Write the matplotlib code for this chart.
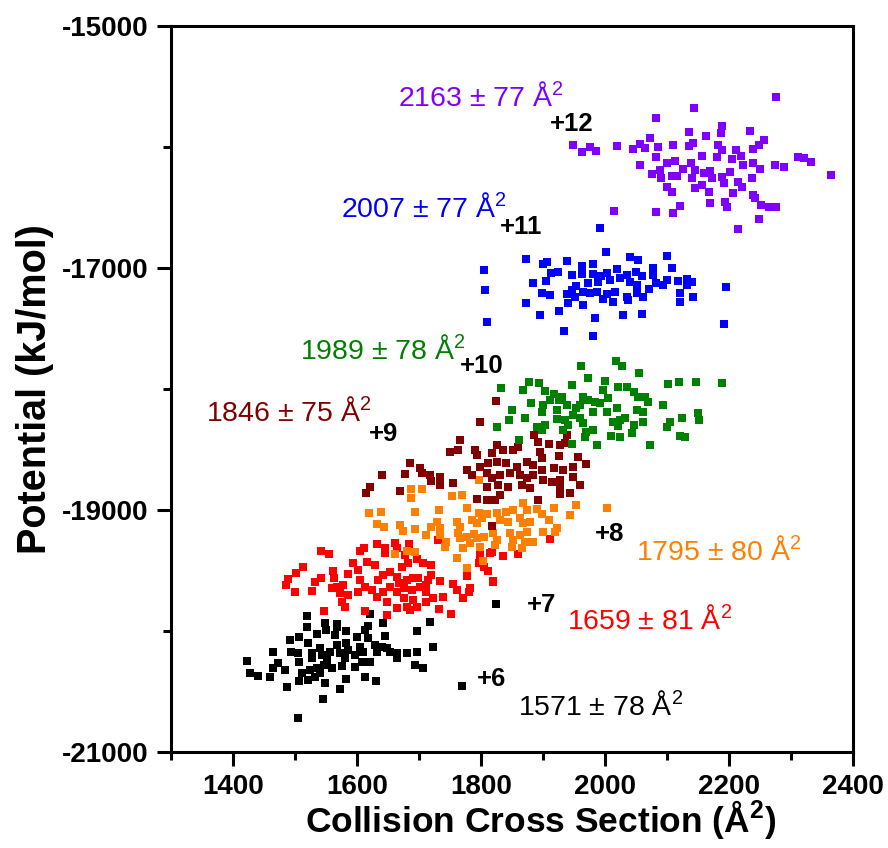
import matplotlib
matplotlib.use('Agg')
import matplotlib.pyplot as plt
from matplotlib.ticker import MultipleLocator

plt.rcParams['font.family'] = ['Liberation Sans', 'DejaVu Sans']
plt.rcParams['mathtext.fontset'] = 'custom'
plt.rcParams['mathtext.rm'] = 'Liberation Sans'
plt.rcParams['mathtext.bf'] = 'Liberation Sans:bold'
plt.rcParams['mathtext.it'] = 'Liberation Sans:italic'
plt.rcParams['axes.unicode_minus'] = False

# (collision cross section A^2, potential kJ/mol), per charge state
pts_z6 = [(1824,-19777),(1519,-19876),(1621,-19862),(1519,-19969),(1548,-19931),(1550,-19991),(1567,-19942),
          (1568,-19964),(1536,-20027),(1565,-20033),(1583,-19997),(1600,-20047),(1613,-19991),(1618,-19958),
          (1642,-19931),(1645,-20041),(1717,-19928),(1696,-20000),(1492,-20074),(1507,-20047),(1521,-20101),
          (1494,-20176),(1505,-20184),(1507,-20253),(1465,-20176),(1422,-20245),(1527,-20184),(1527,-20225),
          (1540,-20143),(1543,-20198),(1551,-20239),(1556,-20171),(1567,-20115),(1573,-20184),(1583,-20101),
          (1581,-20225),(1586,-20157),(1597,-20198),(1605,-20130),(1610,-20171),(1608,-20253),(1618,-20060),
          (1629,-20115),(1632,-20171),(1640,-20130),(1648,-20143),(1653,-20171),(1664,-20184),(1664,-20225),
          (1680,-20184),(1696,-20171),(1621,-20253),(1596,-20295),(1575,-20289),(1559,-20303),(1546,-20281),
          (1535,-20308),(1524,-20322),(1511,-20344),(1484,-20322),(1473,-20267),(1465,-20308),(1460,-20382),
          (1427,-20349),(1441,-20372),(1487,-20465),(1507,-20415),(1521,-20405),(1532,-20377),(1540,-20344),
          (1548,-20432),(1583,-20396),(1613,-20382),(1630,-20415),(1694,-20281),(1706,-20303),(1722,-20134),
          (1573,-20482),(1545,-20564),(1505,-20721),(1770,-20452)]

pts_z7 = [(1542,-19336),(1555,-19366),(1605,-19339),(1612,-19316),(1633,-19283),(1645,-19316),(1645,-19358),
          (1661,-19270),(1664,-19316),(1684,-19281),(1696,-19407),(1677,-19372),(1683,-19440),(1707,-19440),
          (1720,-19454),(1798,-19372),(1815,-19358),(1804,-19468),(1812,-19501),(1513,-19473),(1502,-19523),
          (1489,-19572),(1485,-19620),(1500,-19675),(1527,-19667),(1532,-19597),(1542,-19559),(1562,-19501),
          (1563,-19564),(1586,-19531),(1594,-19440),(1602,-19496),(1616,-19427),(1629,-19454),(1605,-19578),
          (1567,-19634),(1578,-19620),(1559,-19647),(1573,-19688),(1586,-19702),(1602,-19675),(1613,-19634),
          (1624,-19661),(1634,-19578),(1642,-19537),(1653,-19510),(1664,-19551),(1672,-19468),(1667,-19606),
          (1680,-19578),(1691,-19564),(1699,-19564),(1653,-19634),(1642,-19675),(1632,-19716),(1664,-19675),
          (1675,-19647),(1688,-19661),(1702,-19634),(1715,-19578),(1720,-19537),(1734,-19587),(1711,-19620),
          (1712,-19675),(1691,-19744),(1675,-19730),(1648,-19758),(1664,-19807),(1680,-19799),(1685,-19826),
          (1696,-19804),(1575,-19758),(1581,-19799),(1547,-19834),(1613,-19837),(1648,-19867),(1711,-19758),
          (1723,-19730),(1738,-19716),(1733,-19818),(1751,-19862),(1754,-19614),(1761,-19661),(1778,-19545),
          (1780,-19675),(1771,-19730),(1782,-19647),(1819,-19592),(1911,-19242),(1836,-19380),(1860,-19363),
          (1817,-19344),(1820,-19584),(1796,-19440),(1731,-19248)]

pts_z8 = [(1687,-18903),(1753,-18884),(1769,-18876),(1868,-18939),(1954,-18958),(2004,-18986),(1620,-19027),
          (1638,-19014),(1694,-19014),(1732,-19000),(1777,-18986),(1796,-19027),(1809,-19033),(1825,-19027),
          (1841,-19014),(1852,-19000),(1874,-19000),(1890,-18994),(1898,-19033),(1917,-18986),(1944,-19041),
          (1632,-19115),(1644,-19138),(1669,-19124),(1674,-19171),(1694,-19159),(1729,-19096),(1720,-19138),
          (1734,-19151),(1761,-19096),(1766,-19138),(1785,-19082),(1793,-19110),(1801,-19068),(1831,-19082),
          (1844,-19096),(1863,-19068),(1868,-19110),(1879,-19096),(1909,-19082),(1712,-19206),(1734,-19206),
          (1744,-19262),(1742,-19303),(1763,-19192),(1766,-19234),(1777,-19220),(1788,-19198),(1793,-19234),
          (1804,-19220),(1771,-19316),(1782,-19275),(1798,-19303),(1820,-19192),(1825,-19248),(1823,-19289),
          (1847,-19192),(1852,-19248),(1850,-19303),(1863,-19206),(1874,-19179),(1900,-19179),(1922,-19151),
          (1919,-19179),(1871,-19262),(1884,-19262),(1866,-19316),(1661,-19366),(1680,-19339),(1694,-19344),
          (1761,-19399),(1803,-19421),(1778,-19477),(1687,-18826),(1704,-18829),(1796,-18752)]

pts_z9 = [(1824,-18099),(1798,-18270),(1886,-18380),(1892,-18435),(1910,-18454),(1927,-18463),(1935,-18444),
          (1938,-18380),(1766,-18421),(1750,-18523),(1763,-18504),(1790,-18504),(1793,-18545),(1825,-18463),
          (1836,-18504),(1817,-18531),(1852,-18504),(1860,-18477),(1895,-18518),(1898,-18573),(1925,-18554),
          (1957,-18559),(1969,-18622),(1685,-18614),(1702,-18655),(1704,-18692),(1718,-18711),(1734,-18730),
          (1734,-18793),(1720,-18760),(1640,-18711),(1677,-18702),(1754,-18779),(1621,-18807),(1614,-18857),
          (1669,-18840),(1777,-18669),(1785,-18711),(1798,-18642),(1812,-18614),(1825,-18601),(1841,-18614),
          (1858,-18642),(1874,-18601),(1884,-18628),(1898,-18669),(1917,-18655),(1933,-18669),(1949,-18642),
          (1809,-18697),(1817,-18738),(1831,-18711),(1847,-18697),(1863,-18711),(1874,-18738),(1884,-18711),
          (1900,-18752),(1914,-18766),(1927,-18752),(1949,-18725),(1960,-18793),(1927,-18807),(1828,-18793),
          (1844,-18807),(1866,-18793),(1879,-18821),(1809,-18807),(1927,-18868),(1944,-18857),(1831,-18876),
          (1823,-18917),(1809,-18917),(1793,-18911),(1892,-18917),(1817,-19130)]

pts_z10 = [(2018,-17768),(2027,-17810),(1961,-17810),(2055,-17870),(1973,-17911),(2000,-17931),(2101,-17961),
           (2119,-17942),(2147,-17944),(2189,-17950),(1833,-17989),(1877,-17944),(1868,-18008),(1894,-17953),
           (1946,-17967),(2021,-17981),(2035,-17986),(1903,-18014),(1917,-18041),(1930,-18063),(1911,-18091),
           (1880,-18113),(1925,-18091),(1965,-18063),(1973,-18091),(1984,-18105),(1997,-18008),(2005,-18077),
           (1992,-18118),(2047,-18022),(2054,-18063),(2065,-18063),(2070,-18105),(1900,-18132),(1938,-18132),
           (1954,-18159),(1960,-18132),(1922,-18173),(1949,-18215),(1981,-18187),(2003,-18187),(2019,-18159),
           (2051,-18173),(2062,-18187),(2093,-18135),(1850,-18176),(1898,-18192),(1871,-18237),(1845,-18259),
           (1922,-18250),(1935,-18256),(1960,-18242),(1965,-18283),(2024,-18256),(2013,-18270),(2032,-18242),
           (2046,-18297),(2062,-18270),(2105,-18270),(2124,-18242),(2150,-18201),(2151,-18259),(1825,-18316),
           (1890,-18316),(1903,-18297),(1898,-18339),(1933,-18339),(1941,-18297),(1981,-18339),(1970,-18353),
           (2021,-18306),(2024,-18399),(2009,-18388),(2043,-18366),(2100,-18311),(2121,-18388),(2129,-18394),
           (1968,-18394),(1861,-18421),(1946,-18457),(1987,-18463),(2073,-18463)]

pts_z11 = [(1992,-16669),(2001,-16870),(2040,-16906),(2054,-16934),(2100,-16901),(1873,-16926),(1900,-16969),
           (1907,-16953),(1938,-16945),(1963,-16981),(1980,-16969),(1804,-17014),(1913,-17044),(1924,-17033),
           (1946,-17058),(1963,-17052),(1981,-17052),(1994,-17064),(2003,-17044),(2020,-17011),(2036,-17058),
           (2050,-17035),(2060,-17066),(2078,-16997),(2077,-17058),(2108,-17002),(1884,-17124),(1905,-17105),
           (1954,-17149),(1973,-17126),(1989,-17113),(2008,-17099),(2024,-17085),(2040,-17113),(2051,-17140),
           (2083,-17126),(2100,-17099),(2117,-17107),(2132,-17091),(2140,-17113),(1806,-17179),(1898,-17206),
           (1912,-17221),(1938,-17215),(1946,-17182),(1965,-17196),(1976,-17209),(1987,-17196),(2003,-17215),
           (2016,-17196),(2035,-17237),(2051,-17209),(2062,-17242),(2071,-17176),(2094,-17140),(2121,-17206),
           (2133,-17140),(2195,-17157),(1873,-17292),(1941,-17287),(1952,-17242),(1965,-17306),(1997,-17256),
           (2013,-17278),(2037,-17264),(2121,-17281),(2142,-17242),(1926,-17353),(1895,-17391),(1984,-17416),
           (2029,-17386),(2060,-17380),(1809,-17449),(1934,-17521),(1980,-17562),(2192,-17465)]

pts_z12 = [(2275,-15584),(2144,-15680),(2083,-15763),(2188,-15824),(2187,-15887),(2135,-15876),(2163,-15909),
           (2234,-15870),(2256,-15945),(1948,-15986),(1963,-16044),(1975,-16000),(1985,-16031),(2019,-15992),
           (2045,-16014),(2056,-15975),(2073,-15928),(2065,-16011),(2086,-16002),(2109,-15981),(2135,-15989),
           (2142,-15964),(2182,-15981),(2188,-16025),(2212,-16025),(2238,-16016),(2248,-15986),(2083,-16085),
           (2100,-16135),(2113,-16116),(2156,-16072),(2180,-16080),(2205,-16097),(2219,-16072),(2056,-16146),
           (2075,-16226),(2089,-16190),(2091,-16259),(2108,-16237),(2116,-16240),(2125,-16184),(2138,-16135),
           (2145,-16190),(2140,-16259),(2159,-16217),(2170,-16198),(2172,-16259),(2188,-16245),(2192,-16300),
           (2202,-16204),(2215,-16287),(2223,-16149),(2238,-16130),(2237,-16259),(2250,-16184),(2274,-16146),
           (2288,-16163),(2311,-16083),(2321,-16088),(2332,-16121),(2364,-16231),(2100,-16328),(2108,-16369),
           (2145,-16341),(2156,-16314),(2167,-16374),(2207,-16383),(2221,-16333),(2239,-16397),(2242,-16424),
           (2252,-16479),(2264,-16498),(2275,-16493),(2170,-16465),(2194,-16452),(2196,-16493),(2121,-16485),
           (2015,-16529),(2083,-16540),(2110,-16548),(2249,-16595),(2215,-16680)]

charges = ['+6', '+7', '+8', '+9', '+10', '+11', '+12']
ccs_text = ['1571 ± 78', '1659 ± 81', '1795 ± 80', '1846 ± 75', '1989 ± 78', '2007 ± 77', '2163 ± 77']
colors = ['#000000', '#ff0000', '#ff8000', '#800000', '#008000', '#0000ff', '#8000ff']
series = [pts_z6, pts_z7, pts_z8, pts_z9, pts_z10, pts_z11, pts_z12]

# label anchors (left edge, vertical centre) in data units
charge_pos = [(1794, -20396), (1874, -19785), (1984, -19198), (1619, -18372),
              (1766, -17810), (1831, -16661), (1911, -15810)]
ccs_pos = [(1860, -20620), (1939, -19917), (2050, -19339), (1356, -18190),
           (1508, -17678), (1574, -16504), (1666, -15587)]

fig = plt.figure(figsize=(8.88, 8.48), dpi=100)
ax = fig.add_axes([0.1926, 0.1132, 0.768, 0.8561])

for pts, c in zip(series, colors):
    xs, ys = zip(*pts)
    ax.scatter(xs, ys, marker='s', s=35, color=c, linewidths=0, zorder=3)

for lab, pos in zip(charges, charge_pos):
    ax.text(pos[0], pos[1], lab, fontsize=18.5, fontweight='bold', ha='left', va='center')
for lab, pos, c in zip(ccs_text, ccs_pos, colors):
    ax.text(pos[0], pos[1], lab + r' Å$^{2}$', fontsize=20.5, color=c, ha='left', va='center')

ax.set_xlim(1300, 2400)
ax.set_ylim(-21000, -15000)
ax.xaxis.set_major_locator(MultipleLocator(200))
ax.xaxis.set_minor_locator(MultipleLocator(100))
ax.set_yticks([-21000, -19000, -17000, -15000])
ax.set_yticks([-20000, -18000, -16000], minor=True)
ax.tick_params(which='both', direction='out', width=2.2, top=False, right=False)
ax.tick_params(which='major', length=10, labelsize=20, pad=6)
ax.tick_params(which='minor', length=6)
for lab in ax.get_xticklabels() + ax.get_yticklabels():
    lab.set_fontweight('bold')
for sp in ax.spines.values():
    sp.set_linewidth(2.2)

ax.set_xlabel(r'Collision Cross Section (Å$^{\mathbf{2}}$)', fontsize=25.5, fontweight='bold')
ax.xaxis.set_label_coords(0.542, -0.064)
ax.set_ylabel('Potential (kJ/mol)', fontsize=28.5, fontweight='bold', labelpad=6)

fig.savefig('out.png', dpi=100)
